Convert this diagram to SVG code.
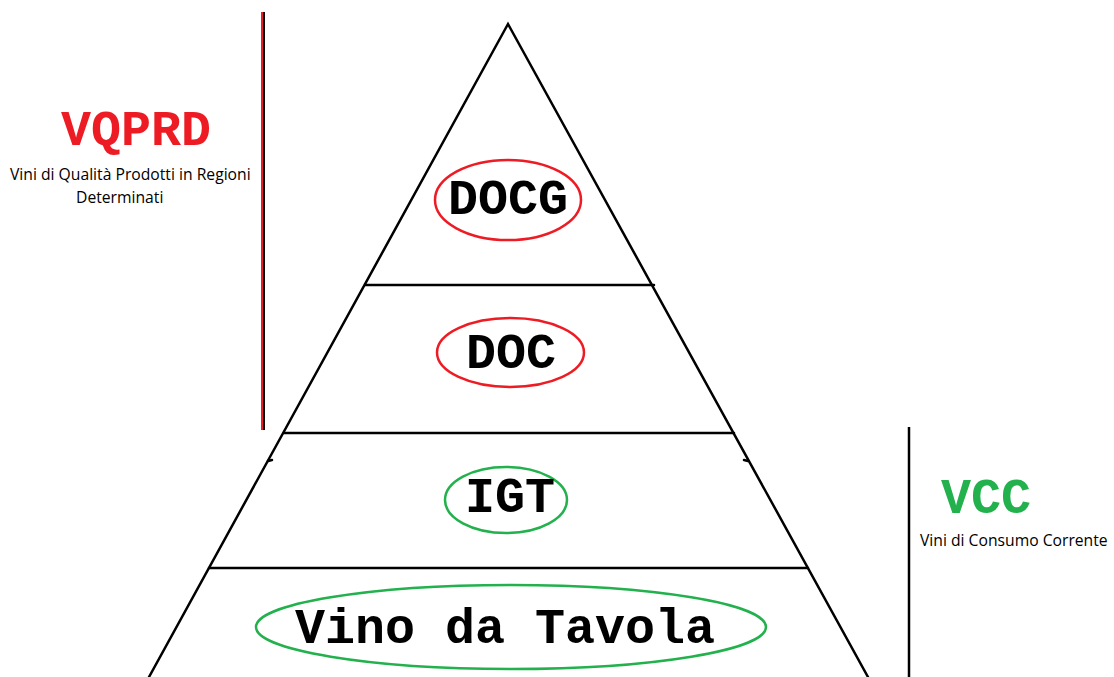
<svg xmlns="http://www.w3.org/2000/svg" width="1114" height="677" viewBox="0 0 1114 677">
<style>
.ln{stroke:#000;stroke-width:2.5;fill:none;stroke-linecap:round}
.big{font-family:"Courier New","Liberation Mono",monospace;font-weight:bold;font-size:50px;text-anchor:middle}
.small{font-family:"Open Sans","Liberation Sans",sans-serif;font-size:15.7px;fill:#000}
.red{stroke:#ED1C24;stroke-width:2.5;fill:none}
.green{stroke:#22B14C;stroke-width:2.5;fill:none}
</style>
<rect width="1114" height="677" fill="#fff"/>
<g id="connectors">
<polyline class="ln" points="149,677 508,24 868,677"/>
<line class="ln" x1="365" y1="285" x2="654" y2="285"/>
<line class="ln" x1="284" y1="433" x2="734" y2="433"/>
<line class="ln" x1="209" y1="568" x2="808" y2="568"/>
<line class="ln" x1="268" y1="461" x2="272" y2="460"/>
<line class="ln" x1="744" y1="460" x2="748" y2="461"/>
<line x1="262" y1="12" x2="262" y2="430" stroke="#ED1C24" stroke-width="2"/>
<line x1="264" y1="12" x2="264" y2="430" stroke="#000" stroke-width="2"/>
<line x1="909" y1="427" x2="909" y2="677" stroke="#000" stroke-width="2.5"/>
</g>
<g id="vqprd">
<text class="big" x="136" y="145" fill="#ED1C24">VQPRD</text>
<text class="small" x="10" y="180">Vini di Qualità Prodotti in Regioni</text>
<text class="small" x="76" y="203">Determinati</text>
</g>
<g id="docg">
<ellipse class="red" cx="508" cy="200" rx="73" ry="40"/>
<text class="big" x="508" y="214">DOCG</text>
</g>
<g id="doc">
<ellipse class="red" cx="510.5" cy="352.5" rx="73.5" ry="34.5"/>
<text class="big" x="511" y="368">DOC</text>
</g>
<g id="igt">
<ellipse class="green" cx="506" cy="500" rx="61" ry="33"/>
<text class="big" x="510" y="512">IGT</text>
</g>
<g id="vino">
<ellipse class="green" cx="511" cy="627" rx="255" ry="42"/>
<text class="big" x="505" y="643">Vino da Tavola</text>
</g>
<g id="vcc">
<text class="big" x="986" y="513" fill="#22B14C">VCC</text>
<text class="small" x="920" y="546">Vini di Consumo Corrente</text>
</g>
</svg>
